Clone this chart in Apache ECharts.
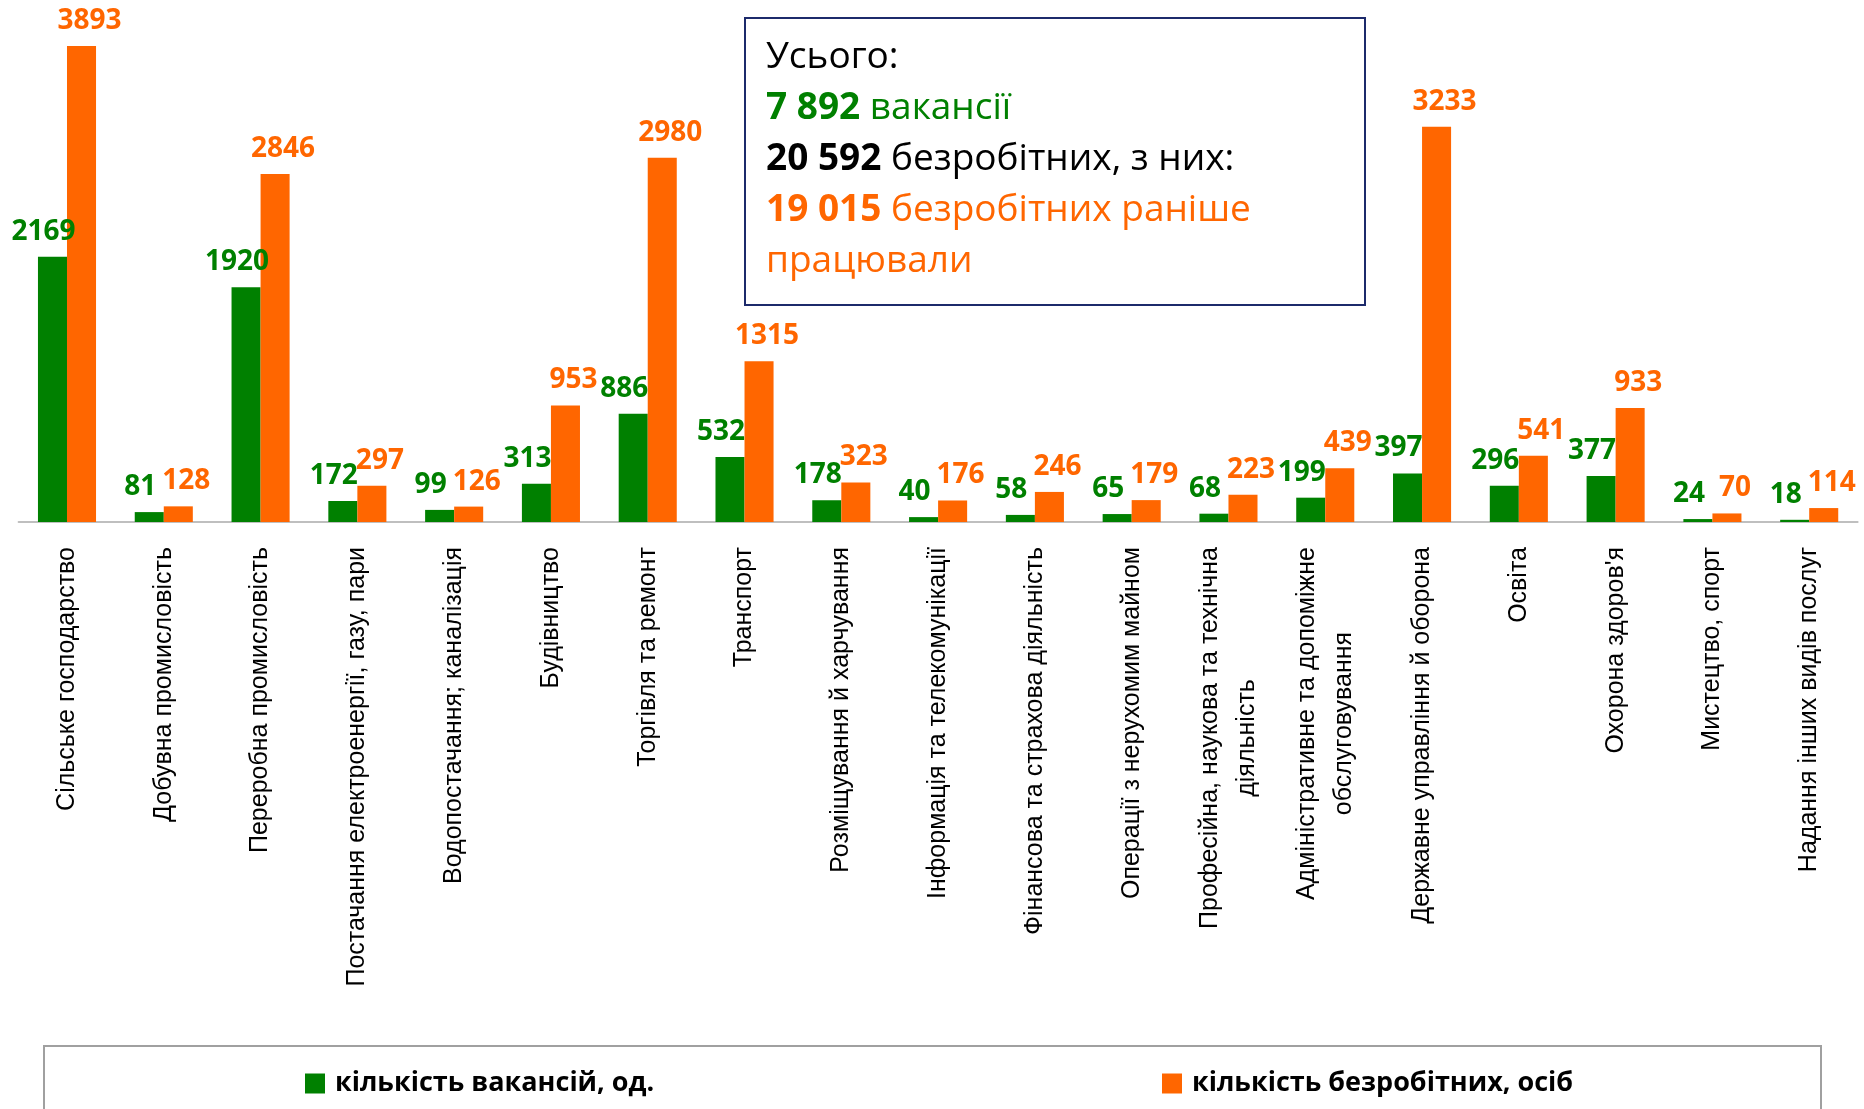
<!DOCTYPE html>
<html>
<head>
<meta charset="utf-8">
<script src="https://cdn.jsdelivr.net/npm/echarts@6/dist/echarts.min.js"></script>
<style>
html,body{margin:0;padding:0;background:#fff;}
#chart{width:1864px;height:1109px;}
</style>
</head>
<body>
<div id="chart"></div>
<script>
var categories = [
  'Сільське господарство',
  'Добувна промисловість',
  'Переробна промисловість',
  'Постачання електроенергії, газу, пари',
  'Водопостачання; каналізація',
  'Будівництво',
  'Торгівля та ремонт',
  'Транспорт',
  'Розміщування й харчування',
  'Інформація та телекомунікації',
  'Фінансова та страхова діяльність',
  'Операції з нерухомим майном',
  'Професійна, наукова та технічна\nдіяльність',
  'Адміністративне та допоміжне\nобслуговування',
  'Державне управління й оборона',
  'Освіта',
  "Охорона здоров'я",
  'Мистецтво, спорт',
  'Надання інших видів послуг'
];
var vacancies = [2169, 81, 1920, 172, 99, 313, 886, 532, 178, 40, 58, 65, 68, 199, 397, 296, 377, 24, 18];
var unemployed = [3893, 128, 2846, 297, 126, 953, 2980, 1315, 323, 176, 246, 179, 223, 439, 3233, 541, 933, 70, 114];
var seriesNames = ['кількість вакансій, од.', 'кількість безробітних, осіб'];
var summaryLines = [
  ['Усього:'],
  ['7 892', 'вакансії'],
  ['20 592', 'безробітних, з них:'],
  ['19 015', 'безробітних раніше'],
  ['працювали']
];

var GREEN = '#008000';
var ORANGE = '#FF6600';
var LABEL_FONT = "'Open Sans', 'Noto Sans', sans-serif";

var chart = echarts.init(document.getElementById('chart'));

var summaryText =
  '{k|' + summaryLines[0][0] + '}\n' +
  '{gb|' + summaryLines[1][0] + ' }{g|' + summaryLines[1][1] + '}\n' +
  '{kb|' + summaryLines[2][0] + ' }{k|' + summaryLines[2][1] + '}\n' +
  '{ob|' + summaryLines[3][0] + ' }{o|' + summaryLines[3][1] + '}\n' +
  '{o|' + summaryLines[4][0] + '}';

var BOX_SIZE = 37;
function boxStyle(fill, bold) {
  return { fill: fill, fontFamily: LABEL_FONT, fontSize: BOX_SIZE, fontWeight: bold ? 'bold' : 'normal', lineHeight: 51 };
}

var legendText = { fontFamily: LABEL_FONT, fontSize: 27, fontWeight: 'bold', color: '#000', padding: [0, 0, 0, 5] };

var option = {
  backgroundColor: '#ffffff',
  animation: false,
  grid: { left: 18.6, right: 6.4, top: 33, bottom: 587, containLabel: false },
  legend: [
    {
      data: [seriesNames[0]], left: 300, top: 1065,
      itemWidth: 20, itemHeight: 20, icon: 'rect', itemGap: 0,
      textStyle: legendText
    },
    {
      data: [seriesNames[1]], left: 1157, top: 1065,
      itemWidth: 20, itemHeight: 20, icon: 'rect', itemGap: 0,
      textStyle: legendText
    }
  ],
  xAxis: {
    type: 'category',
    data: categories,
    axisLine: { show: true, lineStyle: { color: '#bfbfbf', width: 2 } },
    axisTick: { show: false },
    axisLabel: {
      interval: 0,
      rotate: 90,
      margin: 25,
      color: '#000',
      formatter: function (v) {
        return v.split('\n').map(function (s) { return '{a|' + s + '}'; }).join('\n');
      },
      rich: {
        a: { fontFamily: "'Liberation Sans', Arial, sans-serif", fontSize: 25, lineHeight: 37, color: '#000', align: 'center' }
      }
    }
  },
  yAxis: {
    type: 'value', min: 0, max: 4000, show: false,
    splitLine: { show: false }
  },
  series: [
    {
      name: seriesNames[0],
      type: 'bar',
      data: vacancies,
      barGap: '0%',
      barCategoryGap: '40%',
      itemStyle: { color: GREEN },
      label: {
        show: true, position: 'top', distance: 11, offset: [-9, 0],
        color: GREEN, fontFamily: LABEL_FONT, fontWeight: 'bold', fontSize: 28
      }
    },
    {
      name: seriesNames[1],
      type: 'bar',
      data: unemployed,
      barGap: '0%',
      barCategoryGap: '40%',
      itemStyle: { color: ORANGE },
      label: {
        show: true, position: 'top', distance: 11, offset: [8, 0],
        color: ORANGE, fontFamily: LABEL_FONT, fontWeight: 'bold', fontSize: 28
      }
    }
  ],
  graphic: [
    {
      type: 'rect', z: 100,
      shape: { x: 745, y: 18, width: 620, height: 287 },
      style: { fill: '#ffffff', stroke: '#1c2a6b', lineWidth: 2 }
    },
    {
      type: 'text', z: 101, x: 766, y: 32,
      style: {
        text: summaryText,
        fontFamily: LABEL_FONT,
        fontSize: BOX_SIZE,
        lineHeight: 51,
        fill: '#000',
        rich: {
          k: boxStyle('#000', false),
          kb: boxStyle('#000', true),
          g: boxStyle(GREEN, false),
          gb: boxStyle(GREEN, true),
          o: boxStyle(ORANGE, false),
          ob: boxStyle(ORANGE, true)
        }
      }
    },
    {
      type: 'rect', z: 0,
      shape: { x: 44, y: 1046, width: 1777, height: 90 },
      style: { fill: 'none', stroke: '#a0a0a0', lineWidth: 2 }
    }
  ]
};
chart.setOption(option);
</script>
</body>
</html>
